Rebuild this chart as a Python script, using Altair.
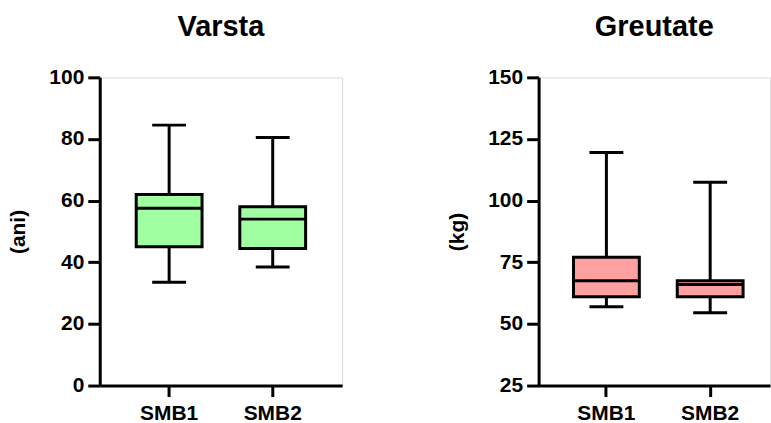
import altair as alt
import pandas as pd

# Summary statistics (min, Q1, median, Q3, max) per group
groups = ["SMB1", "SMB2"]

varsta_min = [33.5, 38.5]
varsta_q1 = [45.0, 44.5]
varsta_med = [57.5, 54.0]
varsta_q3 = [62.0, 58.0]
varsta_max = [84.5, 80.5]

greutate_min = [57.0, 54.5]
greutate_q1 = [61.0, 61.0]
greutate_med = [67.5, 66.0]
greutate_q3 = [77.0, 67.5]
greutate_max = [119.5, 107.5]

FONT = "Liberation Sans"


def summary_frame(mins, q1s, meds, q3s, maxs):
    return pd.DataFrame({
        "grup": groups, "min": mins, "q1": q1s,
        "med": meds, "q3": q3s, "max": maxs,
    })


def box_panel(df, title, y_title, domain, ticks, fill, width, x_scale):
    base = alt.Chart(df)
    x = alt.X("grup:N", title=None, sort=groups, scale=x_scale,
              axis=alt.Axis(labelAngle=0, labelFont=FONT, labelFontSize=21,
                            labelFontWeight="bold", labelColor="black",
                            labelPadding=6, tickSize=11, tickWidth=3,
                            tickColor="black", domainWidth=3,
                            domainColor="black", grid=False))
    yscale = alt.Scale(domain=domain, nice=False, zero=False)
    yaxis = alt.Axis(values=ticks, title=y_title, titleFont=FONT,
                     titleFontSize=21, titleFontWeight="bold",
                     titleColor="black", titlePadding=20,
                     labelFont=FONT, labelFontSize=21, labelFontWeight="bold",
                     labelColor="black", labelPadding=4, tickSize=12,
                     tickWidth=3, tickColor="black", domainWidth=3,
                     domainColor="black", grid=False)

    whisker = base.mark_rule(color="black", strokeWidth=3).encode(
        x=x, y=alt.Y("min:Q", scale=yscale, axis=yaxis), y2="max:Q")
    box = base.mark_bar(size=66, fill=fill, stroke="black",
                        strokeWidth=3).encode(
        x=x, y=alt.Y("q1:Q", scale=yscale), y2="q3:Q")
    median = base.mark_tick(size=66, thickness=3, color="black",
                            opacity=1).encode(
        x=x, y=alt.Y("med:Q", scale=yscale))
    cap_lo = base.mark_tick(size=34, thickness=3, color="black",
                            opacity=1).encode(
        x=x, y=alt.Y("min:Q", scale=yscale))
    cap_hi = base.mark_tick(size=34, thickness=3, color="black",
                            opacity=1).encode(
        x=x, y=alt.Y("max:Q", scale=yscale))

    return alt.layer(whisker, box, median, cap_lo, cap_hi).properties(
        width=width, height=309,
        title=alt.TitleParams(title, font=FONT, fontSize=29,
                              fontWeight="bold", color="black", offset=24,
                              anchor="middle"))


left = box_panel(
    summary_frame(varsta_min, varsta_q1, varsta_med, varsta_q3, varsta_max),
    "Varsta", "(ani)", [0, 100], [0, 20, 40, 60, 80, 100], "#a0ffa0", 243,
    alt.Scale(paddingInner=0, paddingOuter=0.17))

right = box_panel(
    summary_frame(greutate_min, greutate_q1, greutate_med, greutate_q3,
                  greutate_max),
    "Greutate", "(kg)", [25, 150], [25, 50, 75, 100, 125, 150], "#ffa0a0",
    232, alt.Scale(paddingInner=0, paddingOuter=0.115, align=0.667))

chart = alt.hconcat(left, right, spacing=103).properties(
    padding={"left": 7, "top": 12, "right": 0, "bottom": 0}
).configure_view(stroke=None).configure(background="white")

chart.save("out.html", embed_options={"renderer": "svg", "actions": False})
